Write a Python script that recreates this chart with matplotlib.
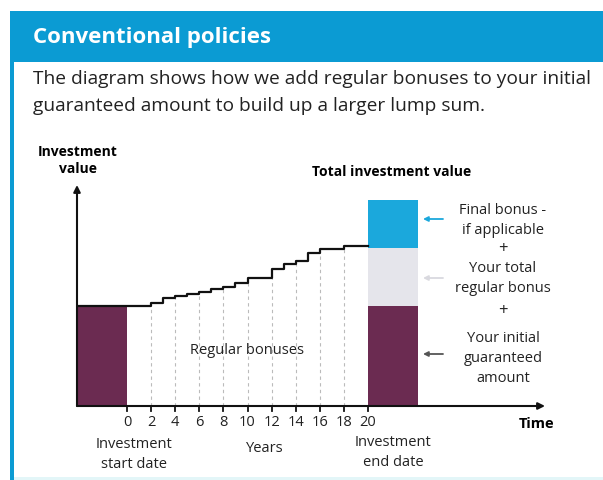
import numpy as np
import matplotlib
matplotlib.use('Agg')
import matplotlib.pyplot as plt
from matplotlib.patches import Rectangle

plt.rcParams['font.family'] = ['Open Sans', 'DejaVu Sans']

W, H = 603, 480

# data (value units: initial guaranteed amount = 100)
step_years = [2, 3, 4, 5, 6, 7, 8, 9, 10, 12, 13, 14, 15, 16, 18]
step_values = [103, 108, 110, 112, 114, 117, 119, 123, 128, 137, 142, 145, 153, 157, 160]
tick_years = [0, 2, 4, 6, 8, 10, 12, 14, 16, 18, 20]
initial_amount = 100
regular_bonus = 58
final_bonus = 48
end_year = 20

purple = '#6b2b51'
light_grey = '#e5e5eb'
bonus_blue = '#1ba8dc'
header_blue = '#0b9bd3'


def fx(x):
    return x / W


def fy(y):
    return 1 - y / H


fig = plt.figure(figsize=(W / 100, H / 100), dpi=100)
fig.patch.set_facecolor('white')

# header band + left border of the box
fig.patches.append(Rectangle((fx(10), fy(62)), fx(593), 51 / H, transform=fig.transFigure,
                             facecolor=header_blue, edgecolor='none', zorder=0))
fig.patches.append(Rectangle((fx(10), fy(480)), 4 / W, 418 / H, transform=fig.transFigure,
                             facecolor=header_blue, edgecolor='none', zorder=0))
fig.patches.append(Rectangle((fx(14), 0), 1, 3 / H, transform=fig.transFigure,
                             facecolor='#e3f6f8', edgecolor='none', zorder=0))

fig.text(fx(33), fy(38), 'Conventional policies', color='white', fontsize=16,
         fontweight='bold', va='center', ha='left')
fig.text(fx(33), fy(79), 'The diagram shows how we add regular bonuses to your initial',
         fontsize=13.8, va='center', ha='left', color='#222222')
fig.text(fx(33), fy(106), 'guaranteed amount to build up a larger lump sum.',
         fontsize=13.8, va='center', ha='left', color='#222222')

# chart area: 1 year = 12.05 px, 1 value unit = 1 px
px_per_year = 12.05
block_w = 50 / px_per_year
ax = fig.add_axes([fx(77), fy(406), 471 / W, 226 / H])
ax.set_xlim(-block_w, -block_w + 471 / px_per_year)
ax.set_ylim(0, 226)
ax.axis('off')

# blocks
ax.bar(0, initial_amount, width=-block_w, align='edge', color=purple, zorder=2)
ax.bar(end_year, initial_amount, width=block_w, align='edge', color=purple, zorder=2)
ax.bar(end_year, regular_bonus, width=block_w, align='edge', bottom=initial_amount,
       color=light_grey, zorder=2)
ax.bar(end_year, final_bonus, width=block_w, align='edge',
       bottom=initial_amount + regular_bonus, color=bonus_blue, zorder=2)

# step line of regular bonuses
xs = [-block_w] + step_years + [end_year]
ys = [initial_amount] + step_values + [step_values[-1]]
ax.step(xs, ys, where='post', color='#111111', lw=1.6, zorder=3)

# dashed guides at even years
for yr in tick_years[1:-1]:
    prev = [v for s, v in zip(step_years, step_values) if s < yr]
    top = prev[-1] if prev else initial_amount
    ax.vlines(yr, 0, top, colors='#bbbbbb', linestyles=(0, (3, 3)), lw=0.8, zorder=1)

# axes with arrows
x_end = -block_w + 468 / px_per_year
ax.annotate('', xy=(x_end, 0), xytext=(-block_w, 0),
            arrowprops=dict(arrowstyle='-|>', color='#111111', lw=1.5,
                            mutation_scale=10, shrinkA=0, shrinkB=0), zorder=4)
ax.annotate('', xy=(-block_w, 221), xytext=(-block_w, 0),
            arrowprops=dict(arrowstyle='-|>', color='#111111', lw=1.5,
                            mutation_scale=10, shrinkA=0, shrinkB=0), zorder=4)
for yr in tick_years:
    ax.plot([yr, yr], [0, -5], color='#111111', lw=1.3, clip_on=False, zorder=4)
    ax.text(yr, -17, str(yr), ha='center', va='center', fontsize=10.5, color='#222222')

ax.text(10, 55, 'Regular bonuses', ha='center', va='center', fontsize=10.5, color='#222222')

# arrows to the right-hand labels
arrow_col = {'final': bonus_blue, 'regular': '#d9d9df', 'initial': '#555555'}
for key, yv in [('final', 187), ('regular', 128), ('initial', 52)]:
    ax.annotate('', xy=(end_year + 5 / px_per_year + block_w, yv),
                xytext=(end_year + 25 / px_per_year + block_w, yv),
                arrowprops=dict(arrowstyle='-|>', color=arrow_col[key], lw=1.3,
                                mutation_scale=7, shrinkA=0, shrinkB=0))

# labels around the chart
fig.text(fx(78), fy(152), 'Investment', ha='center', va='center', fontsize=10, fontweight='bold')
fig.text(fx(78), fy(169), 'value', ha='center', va='center', fontsize=10, fontweight='bold')
fig.text(fx(392), fy(172), 'Total investment value', ha='center', va='center',
         fontsize=10, fontweight='bold')
fig.text(fx(537), fy(424), 'Time', ha='center', va='center', fontsize=10.5, fontweight='bold')

right_lines = [('Final bonus -', 210), ('if applicable', 230), ('+', 249),
               ('Your total', 268), ('regular bonus', 288), ('+', 311),
               ('Your initial', 339), ('guaranteed', 359), ('amount', 379)]
for txt, yp in right_lines:
    fig.text(fx(503), fy(yp), txt, ha='center', va='center',
             fontsize=12 if txt == '+' else 10.5, color='#222222')

fig.text(fx(134), fy(445), 'Investment', ha='center', va='center', fontsize=10.5, color='#222222')
fig.text(fx(134), fy(464), 'start date', ha='center', va='center', fontsize=10.5, color='#222222')
fig.text(fx(265), fy(448), 'Years', ha='center', va='center', fontsize=10.5, color='#222222')
fig.text(fx(393), fy(443), 'Investment', ha='center', va='center', fontsize=10.5, color='#222222')
fig.text(fx(393), fy(463), 'end date', ha='center', va='center', fontsize=10.5, color='#222222')

fig.savefig('out.png', dpi=100)
